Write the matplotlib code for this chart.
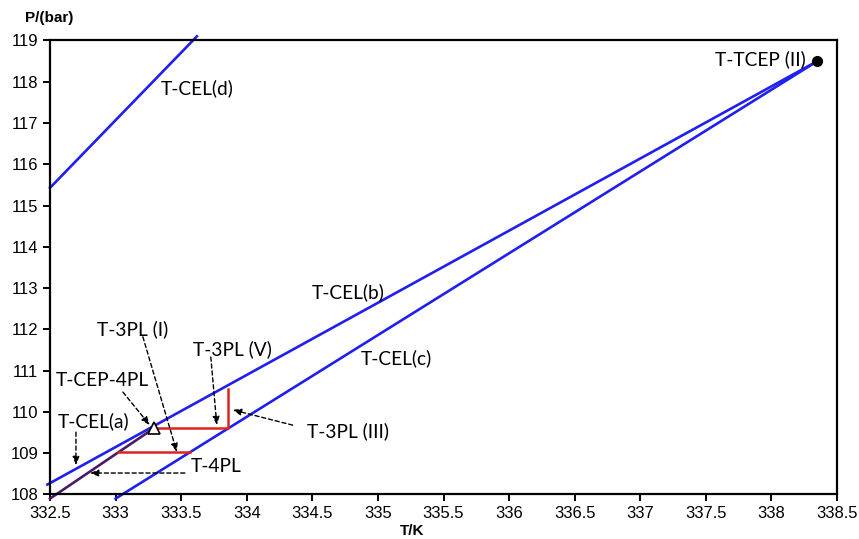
import matplotlib
matplotlib.use("Agg")
import matplotlib.pyplot as plt

# critical end point loci (T in K, P in bar)
cel_a_T = [332.5, 333.29]
cel_a_P = [107.9, 109.6]
cel_b_T = [332.48, 338.35]
cel_b_P = [108.24, 118.5]
cel_c_T = [333.0, 338.35]
cel_c_P = [107.9, 118.5]
cel_d_T = [332.5, 333.62]
cel_d_P = [115.43, 119.1]

# three-phase lines
tpl_v_T = [333.29, 333.86, 333.86]
tpl_v_P = [109.6, 109.6, 110.55]
tpl_i_T = [333.02, 333.57]
tpl_i_P = [109.03, 109.03]

tcep = (338.35, 118.5)
cep_4pl = (333.29, 109.6)

blue = "#1f1ff0"
red = "#dd2222"
purple = "#4a1a6a"
lab_font = "Lato"

fig = plt.figure(figsize=(8.59, 5.39), dpi=100)
ax = fig.add_axes([0.0582, 0.0826, 0.9162, 0.8423])

ax.plot(cel_b_T, cel_b_P, color=blue, lw=1.9, clip_on=False)
ax.plot(cel_c_T, cel_c_P, color=blue, lw=1.9, clip_on=False)
ax.plot(cel_d_T, cel_d_P, color=blue, lw=1.9, clip_on=False)
ax.plot(cel_a_T, cel_a_P, color=purple, lw=1.9, clip_on=False)
ax.plot(tpl_v_T, tpl_v_P, color=red, lw=1.8)
ax.plot(tpl_i_T, tpl_i_P, color=red, lw=1.8)
ax.plot(*tcep, "o", color="black", ms=7, clip_on=False, zorder=5)
ax.plot(*cep_4pl, "^", mfc="white", mec="black", mew=1.2, ms=8, zorder=5)

ax.set_xlim(332.5, 338.5)
ax.set_ylim(108, 119)
ax.set_xticks([332.5 + 0.5 * i for i in range(13)])
ax.set_xticklabels(["332.5", "333", "333.5", "334", "334.5", "335", "335.5",
                    "336", "336.5", "337", "337.5", "338", "338.5"])
ax.set_yticks(range(108, 120))
for s in ax.spines.values():
    s.set_linewidth(1.6)
ax.tick_params(direction="out", length=5, width=1.4, labelsize=12)
for t in ax.get_xticklabels() + ax.get_yticklabels():
    t.set_fontfamily("Liberation Sans")

fig.text(49 / 859, 1 - 18 / 539, "P/(bar)", ha="center", va="center",
         fontsize=11, fontweight="bold", family="Liberation Sans")
fig.text(412 / 859, 1 - 531 / 539, "T/K", ha="center", va="center",
         fontsize=11, fontweight="bold", family="Liberation Sans")

# curve labels
labels = [
    ("T-CEL(b)", 334.77, 112.90, "center"),
    ("T-CEL(c)", 335.14, 111.30, "center"),
    ("T-CEL(d)", 333.62, 117.85, "center"),
    ("T-TCEP (II)", 338.26, 118.55, "right"),
    ("T-CEL(a)", 332.83, 109.78, "center"),
    ("T-CEP-4PL", 332.90, 110.77, "center"),
    ("T-3PL (I)", 333.13, 112.01, "center"),
    ("T-3PL (V)", 333.89, 111.52, "center"),
    ("T-3PL (III)", 334.77, 109.54, "center"),
    ("T-4PL", 333.77, 108.67, "center"),
]
for txt, x, y, ha in labels:
    ax.text(x, y, txt, ha=ha, va="center", fontsize=13.8, family=lab_font)

# dashed pointers: (tail, head)
pointers = [
    ((332.698, 109.51), (332.698, 108.71)),
    ((333.056, 110.48), (333.261, 109.68)),
    ((333.208, 111.82), (333.467, 109.03)),
    ((333.726, 111.33), (333.772, 109.68)),
    ((334.35, 109.68), (333.893, 110.05)),
    ((333.528, 108.52), (332.805, 108.52)),
]
for tail, head in pointers:
    ax.annotate("", xy=head, xytext=tail,
                arrowprops=dict(arrowstyle="-|>,head_length=0.5,head_width=0.2",
                                color="black", lw=1.0, linestyle=(0, (3, 2)),
                                shrinkA=0, shrinkB=0))

fig.savefig("out.png", dpi=100)
